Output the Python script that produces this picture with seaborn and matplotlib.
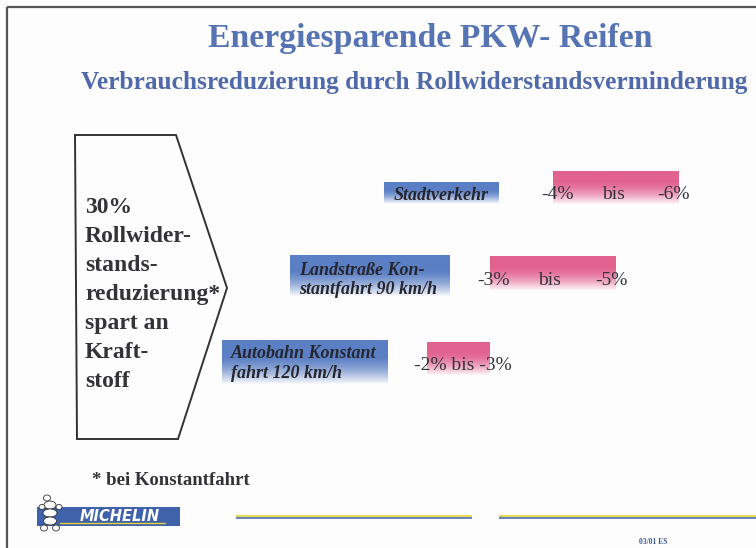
import numpy as np
import pandas as pd
import matplotlib
matplotlib.use("Agg")
import matplotlib.pyplot as plt
from matplotlib.patches import Polygon, Rectangle, Ellipse
from matplotlib.colors import to_rgb
import seaborn as sns

# ---------------- data ----------------
categories = ["Stadtverkehr", "Landstraße Konstantfahrt 90 km/h", "Autobahn Konstantfahrt 120 km/h"]
label_lines = [["Stadtverkehr"],
               ["Landstraße Kon-", "stantfahrt 90 km/h"],
               ["Autobahn Konstant", "fahrt 120 km/h"]]
saving_from = [-4, -3, -2]   # percent
saving_to = [-6, -5, -3]     # percent
title = "Energiesparende PKW- Reifen"
subtitle = "Verbrauchsreduzierung durch Rollwiderstandsverminderung"
arrow_lines = ["30%", "Rollwider-", "stands-", "reduzierung*", "spart an", "Kraft-", "stoff"]
footnote = "* bei Konstantfahrt"
stamp = "03/01 ES"

# ---------------- style ----------------
sns.set_theme(style="white")
plt.rcParams["font.family"] = ["Liberation Serif", "DejaVu Serif"]

W, H = 756, 548
fig = plt.figure(figsize=(W / 100, H / 100), dpi=100)
fig.patch.set_facecolor("#fdfdfd")

# decoration axes in pixel coordinates
deco = fig.add_axes([0, 0, 1, 1])
deco.set_xlim(0, W)
deco.set_ylim(H, 0)
deco.axis("off")

TITLE_BLUE = "#5673b3"
TEXT_DARK = "#333338"
PINK = to_rgb("#e2628f")
BLUE = to_rgb("#5b7fc4")


def gradient(color, n=64, solid=0.25, power=1.0):
    t = np.linspace(0, 1, n)
    f = np.clip((t - solid) / (1 - solid), 0, 1) ** power
    c = np.array(color)[None, :] * (1 - f[:, None]) + np.ones(3)[None, :] * f[:, None]
    return c[:, None, :]


# frame
deco.plot([7, W], [7, 7], color="#555555", lw=1.6, solid_capstyle="butt")
deco.plot([7, 7], [7, H], color="#555555", lw=1.6, solid_capstyle="butt")

# titles
deco.text(430, 38, title, ha="center", va="center", fontsize=24.3, fontweight="bold", color=TITLE_BLUE)
deco.text(414, 83, subtitle, ha="center", va="center", fontsize=18.3, fontweight="bold", color="#5069aa")

# arrow shape
arrow = Polygon([(75, 135), (176, 135), (227, 288), (178, 439), (77, 439)], closed=True,
                fill=False, edgecolor="#333333", lw=1.4)
deco.add_patch(arrow)
for i, line in enumerate(arrow_lines):
    deco.text(85, 213 + 29 * i, line, ha="left", va="baseline", fontsize=17,
              fontweight="bold", color=TEXT_DARK)

# footnote
deco.text(92, 485, footnote, ha="left", va="baseline", fontsize=13.5, fontweight="bold", color=TEXT_DARK)

# label boxes (blue gradient) with category text
box_px = [(384, 499, 182, 204), (290, 450, 255, 297), (222, 388, 340, 385)]
text_x = [441, 299, 231]
text_base = [[200], [275, 294], [358, 378]]
for (x0, x1, y0, y1), lines, tx, bases in zip(box_px, label_lines, text_x, text_base):
    deco.imshow(gradient(BLUE, solid=0.35, power=1.5), extent=(x0, x1, y1, y0), origin="upper",
                aspect="auto", interpolation="bilinear", zorder=1)
    for ln, b in zip(lines, bases):
        deco.text(tx, b, ln, ha="center" if len(lines) == 1 else "left", va="baseline",
                  fontsize=13, fontweight="bold", fontstyle="italic", color="#26262e", zorder=3)

# michelin logo
deco.add_patch(Rectangle((37, 507), 143, 19, facecolor="#3f62ab", edgecolor="none"))
deco.plot([60, 165], [523, 523], color="#e8d23a", lw=1)
deco.text(120, 516.5, "MICHELIN", ha="center", va="center", fontsize=10.5, fontweight="bold",
          fontstyle="italic", color="white", family=["DejaVu Sans"])
for (cx, cy, w, h) in [(47, 498, 7, 6), (50, 505, 12, 8), (50, 513, 14, 8), (50, 521, 13, 8),
                       (44, 528, 7, 6), (56, 528, 7, 6), (42, 507, 6, 5), (59, 507, 6, 5)]:
    deco.add_patch(Ellipse((cx, cy), w, h, facecolor="white", edgecolor="#333333", lw=0.6, zorder=4))

# bottom lines
for xa, xb in [(236, 472), (499, W)]:
    deco.plot([xa, xb], [516, 516], color="#e6d640", lw=1.3, solid_capstyle="butt")
    deco.plot([xa, xb], [517.6, 517.6], color="#5a76b8", lw=1.3, solid_capstyle="butt")

deco.text(653, 542, stamp, ha="center", va="center", fontsize=5.5, fontweight="bold", color="#3d5a9c")

# ---------------- range bars (data axes) ----------------
X0_PX, PX_PER_PCT = 301, 63
ax_left, ax_right, ax_top, ax_bottom = 220, W, 145, 402
ax = fig.add_axes([ax_left / W, 1 - ax_bottom / H, (ax_right - ax_left) / W, (ax_bottom - ax_top) / H])
ax.patch.set_alpha(0)

lo = [-v for v in saving_from]
hi = [-v for v in saving_to]
df = pd.DataFrame({"Fahrt": categories, "von": lo, "bis": hi})
df["Spanne"] = df["bis"] - df["von"]

sns.barplot(data=df, x="Spanne", y="Fahrt", orient="h", width=0.4, color=PINK, ax=ax)

for patch, start in zip(ax.patches, df["von"]):
    patch.set_x(start)
    patch.set_facecolor("none")
    patch.set_edgecolor("none")
    x, y, w, h = patch.get_x(), patch.get_y(), patch.get_width(), patch.get_height()
    im = ax.imshow(gradient(PINK, solid=0.3, power=1.6), extent=(x, x + w, y + h, y), origin="upper",
                   aspect="auto", interpolation="bilinear", zorder=1)
    im.set_clip_path(patch)

ax.set_xlim((ax_left - X0_PX) / PX_PER_PCT, (ax_right - X0_PX) / PX_PER_PCT)
ax.set_ylim(len(categories) - 0.5, -0.5)
ax.axis("off")

for i, (a, b, f, t) in enumerate(zip(df["von"], df["bis"], saving_from, saving_to)):
    kw = dict(textcoords="offset pixels", ha="center", va="center", fontsize=14, color=TEXT_DARK, zorder=5)
    if b - a >= 2:
        ax.annotate(f"{f}%", xy=(a, i), xytext=(4, -7), **kw)
        ax.annotate("bis", xy=((a + b) / 2, i), xytext=(-3, -7), **kw)
        ax.annotate(f"{t}%", xy=(b, i), xytext=(-5, -7), **kw)
    else:
        ax.annotate(f"{f}% bis {t}%", xy=((a + b) / 2, i), xytext=(4, -6), **kw)

fig.savefig("out.png", dpi=100, facecolor=fig.get_facecolor())
